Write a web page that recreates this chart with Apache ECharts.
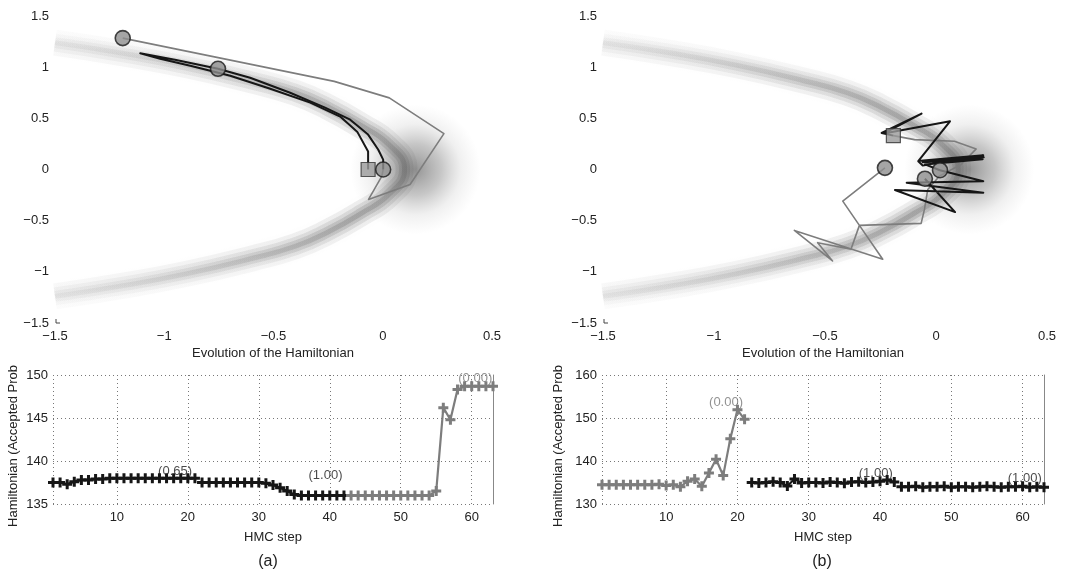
<!DOCTYPE html>
<html><head><meta charset="utf-8">
<script src="https://cdn.jsdelivr.net/npm/echarts@6/dist/echarts.min.js"></script>
<style>html,body{margin:0;padding:0;background:#fff}#c{width:1074px;height:571px}</style>
</head><body><div id="c"></div>
<script>
// ---------------- data ----------------
const topXTicks = [-1.5, -1, -0.5, 0, 0.5];
const topYTicks = [-1.5, -1, -0.5, 0, 0.5, 1, 1.5];
// ridge of the banana-shaped density (background)
const ridge = [[-1.5,1.24],[-1.2,1.14],[-0.9,1.02],[-0.6,0.87],[-0.4,0.75],[-0.25,0.61],[-0.1,0.43],[0.03,0.24],[0.1,0],[0.03,-0.24],[-0.1,-0.43],[-0.25,-0.61],[-0.4,-0.75],[-0.6,-0.87],[-0.9,-1.02],[-1.2,-1.14],[-1.5,-1.24]];
const ridgeVertex = [[0.15, 0]];

// (a) trajectories
const aRun1 = [[-0.067,0],[-0.067,0.175],[-0.117,0.37],[-0.195,0.517],[-0.332,0.653],[-0.515,0.789],[-0.698,0.916],[-0.881,1.014],[-1.019,1.082],[-1.11,1.135],[-0.951,1.072],[-0.754,0.984]];
const aRun2 = [[-0.754,0.984],[-0.607,0.897],[-0.424,0.75],[-0.264,0.604],[-0.149,0.487],[-0.067,0.341],[-0.021,0.195],[0.002,0.097],[0.002,0]];
const aRun3 = [[0.002,0],[-0.004,-0.065],[-0.065,-0.292],[0.125,-0.146],[0.28,0.351],[0.03,0.7],[-0.222,0.861],[-1.19,1.284]];
const aStart = [[-0.067,0]];
const aEnds = [[-1.19,1.284],[-0.754,0.984],[0.002,0]];

// (b) trajectories
const bRun1 = [[-0.192,0.331],[-0.097,0.292],[0.083,0.276],[0.181,0.201],[0.113,0.049],[0.015,-0.065],[-0.037,-0.195],[-0.052,-0.39],[-0.067,-0.526],[-0.345,-0.546],[-0.24,-0.877],[-0.638,-0.595],[-0.466,-0.893],[-0.533,-0.715],[-0.383,-0.78],[-0.345,-0.546],[-0.42,-0.309],[-0.23,0.016]];
const bRun2 = [[-0.192,0.331],[-0.245,0.357],[-0.065,0.546],[-0.235,0.352],[0.063,0.471],[-0.08,0.081],[-0.06,0.04],[0.213,0.14],[-0.07,0.085],[0.215,0.12],[-0.06,0.07],[0.21,0.1],[-0.05,0.05],[0.018,-0.007]];
const bRun3 = [[0.018,-0.007],[0.213,-0.114],[-0.132,-0.13],[0.213,-0.227],[-0.185,-0.2],[0.086,-0.416],[-0.05,-0.09]];
const bStart = [[-0.192,0.331]];
const bEnds = [[-0.23,0.016],[-0.05,-0.09],[0.018,-0.007]];

// Hamiltonian traces (each run: first HMC step + values)
const stepTicks = [10, 20, 30, 40, 50, 60];
const aH1Start = 1;
const aH1 = [137.5,137.5,137.3,137.6,137.8,137.8,137.9,137.9,138.0,138.0,138.0,138.0,138.0,138.0,138.0,138.0,138.0,138.0,138.0,138.0,138.0];
const aH2Start = 22;
const aH2 = [137.5,137.5,137.5,137.5,137.5,137.5,137.5,137.5,137.5,137.4,137.2,136.9,136.5,136.1,136.0,136.0,136.0,136.0,136.0,136.0,136.0];
const aH3Start = 43;
const aH3 = [136.0,136.0,136.0,136.0,136.0,136.0,136.0,136.0,136.0,136.0,136.0,136.0,136.5,146.2,144.8,148.3,148.7,148.7,148.7,148.7,148.7];
const aNotes = [[18.2,138.8,'(0.65)','#1a1a1a'],[39.4,138.3,'(1.00)','#1a1a1a'],[60.5,149.6,'(0.00)','#777']];

const bH1Start = 1;
const bH1 = [134.5,134.5,134.5,134.5,134.5,134.5,134.5,134.5,134.6,134.3,134.5,134.0,135.3,135.8,134.1,137.2,140.4,136.6,145.2,151.9,149.7];
const bH2Start = 22;
const bH2 = [135.0,134.9,135.0,135.2,135.0,134.2,135.8,134.9,135.0,135.0,134.9,135.1,135.0,134.8,135.1,135.2,135.0,135.1,135.3,135.6,135.1];
const bH3Start = 43;
const bH3 = [134.0,134.0,134.1,133.9,134.0,134.0,134.1,133.9,134.0,134.0,133.9,134.0,134.1,134.0,133.9,134.0,134.0,134.1,133.9,134.0,133.9];
const bNotes = [[18.4,153.6,'(0.00)','#777'],[39.4,137.1,'(1.00)','#1a1a1a'],[60.3,136.0,'(1.00)','#1a1a1a']];

// ---------------- chart ----------------
const FONT = 'Liberation Sans';
const TXT = '#222';
const BLACK = '#161616', GRAY = '#7d7d7d';
const plus = 'path://M3.5,0H6.5V3.5H10V6.5H6.5V10H3.5V6.5H0V3.5H3.5Z';
const minusFmt = v => String(v).replace('-', '\u2212');

function topX(gi) {
  return {gridIndex: gi, type: 'value', min: topXTicks[0], max: topXTicks[topXTicks.length-1], interval: 0.5,
    axisLine: {show: false}, axisTick: {show: false}, splitLine: {show: false},
    axisLabel: {margin: 7, fontSize: 13, fontFamily: FONT, color: TXT, formatter: minusFmt}};
}
function topY(gi) {
  return {gridIndex: gi, type: 'value', min: topYTicks[0], max: topYTicks[topYTicks.length-1], interval: 0.5,
    axisLine: {show: false}, axisTick: {show: false}, splitLine: {show: false},
    axisLabel: {margin: 6, fontSize: 13, fontFamily: FONT, color: TXT, formatter: minusFmt}};
}
const dotted = {color: '#777', width: 1, type: [1, 3]};
function botX(gi) {
  return {gridIndex: gi, type: 'value', min: 1, max: 63,
    name: 'HMC step', nameLocation: 'middle', nameGap: 27,
    nameTextStyle: {fontSize: 13, fontFamily: FONT, color: TXT},
    axisLine: {show: false}, axisTick: {show: false, customValues: [1].concat(stepTicks, [63])},
    splitLine: {show: true, lineStyle: dotted},
    axisLabel: {margin: 7, fontSize: 13, fontFamily: FONT, color: TXT, customValues: stepTicks}};
}
function botY(gi, min, max, interval) {
  return {gridIndex: gi, type: 'value', min: min, max: max, interval: interval,
    axisLine: {show: false}, axisTick: {show: false},
    splitLine: {show: true, lineStyle: dotted},
    axisLabel: {margin: 5, fontSize: 13, fontFamily: FONT, color: TXT}};
}
function rightBorder(gi) {
  return {gridIndex: gi, type: 'value', position: 'right', min: 0, max: 1,
    axisLine: {show: true, lineStyle: {color: '#888', width: 1}}, axisTick: {show: false},
    axisLabel: {show: false}, splitLine: {show: false}};
}

function bandGrad(a) {
  const f = [[0,0.18],[0.1,0.45],[0.2,0.72],[0.3,0.9],[0.5,1],[0.7,0.9],[0.8,0.72],[0.9,0.45],[1,0.18]];
  return {type: 'linear', x: 0, y: 0, x2: 0, y2: 1,
    colorStops: f.map(s => ({offset: s[0], color: 'rgba(95,95,95,' + (a * s[1]).toFixed(3) + ')'}))};
}
function bandSeries(gi) {
  const layers = [[26, 0.1, 10], [18, 0.15, 7], [11, 0.21, 4], [5, 0.26, 2]];
  const out = layers.map(l => ({type: 'line', xAxisIndex: gi, yAxisIndex: gi, data: ridge, smooth: true, symbol: 'none', silent: true, z: 1,
    lineStyle: {width: l[0], color: bandGrad(l[1]), cap: 'butt', shadowBlur: l[2], shadowColor: 'rgba(120,120,120,0.2)'}}));
  out.push({type: 'scatter', xAxisIndex: gi, yAxisIndex: gi, data: ridgeVertex, symbolSize: 130, silent: true, z: 1,
    itemStyle: {color: {type: 'radial', x: 0.5, y: 0.5, r: 0.5, colorStops: [
      {offset: 0, color: 'rgba(85,85,85,0.78)'}, {offset: 0.4, color: 'rgba(100,100,100,0.45)'}, {offset: 0.7, color: 'rgba(130,130,130,0.15)'}, {offset: 1, color: 'rgba(150,150,150,0)'}]}}});
  return out;
}
function traj(gi, data, color, w) {
  return {type: 'line', xAxisIndex: gi, yAxisIndex: gi, data: data, symbol: 'none', silent: true, z: 3,
    lineStyle: {color: color, width: w, join: 'round'}};
}
function markers(gi, starts, ends) {
  return [
    {type: 'scatter', xAxisIndex: gi, yAxisIndex: gi, data: starts, symbol: 'rect', symbolSize: 14, silent: true, z: 5,
      itemStyle: {color: '#9a9a9a', borderColor: '#333', borderWidth: 1.2}},
    {type: 'scatter', xAxisIndex: gi, yAxisIndex: gi, data: ends, symbol: 'circle', symbolSize: 15, silent: true, z: 5,
      itemStyle: {color: '#8f8f8f', borderColor: '#1a1a1a', borderWidth: 1.6}}
  ];
}
function trace(gi, start, vals, color) {
  return {type: 'line', xAxisIndex: gi, yAxisIndex: gi, data: vals.map((v, i) => [start + i, v]),
    symbol: plus, symbolSize: 10, showAllSymbol: true, silent: true, z: 3,
    lineStyle: {color: color, width: 2.2}, itemStyle: {color: color}};
}
function notes(gi, arr) {
  return {type: 'scatter', xAxisIndex: gi, yAxisIndex: gi, silent: true, z: 4,
    data: arr.map(n => ({value: [n[0], n[1]], label: {formatter: n[2], color: n[3]}})),
    symbolSize: 1, itemStyle: {color: 'transparent'},
    label: {show: true, position: 'inside', fontSize: 13, fontFamily: FONT}};
}
function txt(t, x, y, size, rot) {
  const g = {type: 'text', x: x, y: y, style: {text: t, x: 0, y: 0, align: 'center', verticalAlign: 'middle', font: size + 'px ' + FONT, fill: TXT}};
  if (rot) g.rotation = rot;
  return g;
}

const option = {
  animation: false,
  backgroundColor: '#fff',
  grid: [
    {left: 55, top: 16, width: 437, height: 307},
    {left: 603, top: 16, width: 444, height: 307},
    {left: 53, top: 375, width: 440, height: 129},
    {left: 602, top: 375, width: 442, height: 129}
  ],
  xAxis: [topX(0), topX(1), botX(2), botX(3)],
  yAxis: [topY(0), topY(1), botY(2, 135, 150, 5), botY(3, 130, 160, 10), rightBorder(2), rightBorder(3)],
  graphic: [
    txt('Evolution of the Hamiltonian', 273, 353, 13),
    txt('Evolution of the Hamiltonian', 823, 353, 13),
    txt('(a)', 268, 562, 16),
    txt('(b)', 822, 562, 16),
    txt('Hamiltonian (Accepted Prob', 13, 446, 13, Math.PI / 2),
    txt('Hamiltonian (Accepted Prob', 558, 446, 13, Math.PI / 2),
    {type: 'polyline', shape: {points: [[56, 319], [56, 323], [60, 323]]}, style: {stroke: '#444', lineWidth: 1, fill: null}},
    {type: 'polyline', shape: {points: [[604, 319], [604, 323], [608, 323]]}, style: {stroke: '#444', lineWidth: 1, fill: null}}
  ],
  series: [].concat(
    bandSeries(0), bandSeries(1),
    [traj(0, aRun3, GRAY, 1.6), traj(0, aRun1, BLACK, 2), traj(0, aRun2, BLACK, 2)],
    markers(0, aStart, aEnds),
    [traj(1, bRun1, GRAY, 1.6), traj(1, bRun2, BLACK, 2), traj(1, bRun3, BLACK, 2)],
    markers(1, bStart, bEnds),
    [trace(2, aH1Start, aH1, BLACK), trace(2, aH2Start, aH2, BLACK), trace(2, aH3Start, aH3, GRAY), notes(2, aNotes)],
    [trace(3, bH1Start, bH1, GRAY), trace(3, bH2Start, bH2, BLACK), trace(3, bH3Start, bH3, BLACK), notes(3, bNotes)]
  )
};
const chart = echarts.init(document.getElementById('c'), null, {renderer: 'canvas'});
chart.setOption(option);
</script></body></html>
